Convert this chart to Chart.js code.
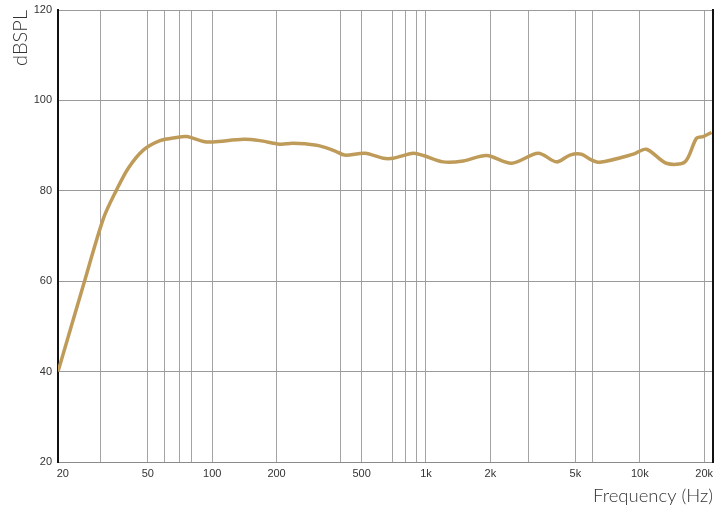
<!DOCTYPE html>
<html>
<head>
<meta charset="utf-8">
<script src="https://cdn.jsdelivr.net/npm/chart.js@4"></script>
<style>
  html, body { margin: 0; padding: 0; background: #fff; }
  #wrap { width: 719px; height: 510px; position: relative; }
</style>
</head>
<body>
<div id="wrap"><canvas id="fr"></canvas></div>
<script>
// --- data ---
const freqs = [19, 25, 31, 35.7, 40.5, 47.6, 57, 68, 76, 91, 101, 140, 167, 207, 239, 308, 337, 376, 416, 519, 631, 703, 872, 973, 1203, 1493, 1921, 2515, 3348, 4081, 4712, 5339, 5840, 6500, 9330, 10740, 13300, 16270, 18400, 19780, 21660];
const spl   = [40, 59.2, 73.9, 80.2, 85.0, 89.0, 91.1, 91.8, 92.0, 90.9, 90.8, 91.4, 91.1, 90.3, 90.5, 90.1, 89.6, 88.8, 87.9, 88.3, 87.2, 87.2, 88.3, 87.8, 86.4, 86.6, 87.8, 86.1, 88.3, 86.4, 87.9, 88.1, 87.0, 86.3, 88.1, 89.2, 86.1, 86.4, 91.6, 92.0, 92.9];

const freqGrid   = [20, 30, 50, 60, 70, 80, 100, 200, 400, 500, 700, 800, 900, 1000, 2000, 3000, 5000, 6000, 10000, 20000];
const freqLabels = { 20: '20', 50: '50', 100: '100', 200: '200', 500: '500', 1000: '1k', 2000: '2k', 5000: '5k', 10000: '10k', 20000: '20k' };

const TICK_FONT = { family: "'Liberation Sans', Arial, sans-serif", size: 11 };

const points = freqs.map((f, i) => ({ x: f, y: spl[i] }));

new Chart(document.getElementById('fr'), {
  type: 'line',
  data: {
    datasets: [{
      data: points,
      borderColor: '#bf9b5a',
      borderWidth: 3.5,
      pointRadius: 0,
      tension: 0.3,
      fill: false,
    }],
  },
  options: {
    responsive: true,
    maintainAspectRatio: false,
    animation: false,
    layout: { padding: { left: 0, right: 0, top: 10, bottom: 0 } },
    plugins: { legend: { display: false }, tooltip: { enabled: false } },
    scales: {
      x: {
        type: 'logarithmic',
        min: 19,
        max: 22000,
        afterBuildTicks: (s) => { s.ticks = freqGrid.map((v) => ({ value: v })); },
        afterFit: (s) => { s.height = 48; },
        ticks: {
          autoSkip: false,
          maxRotation: 0,
          padding: 5,
          color: '#333',
          font: TICK_FONT,
          callback: (v) => freqLabels[v] || '',
        },
        grid: {
          drawTicks: false,
          color: (c) => (c.tick && c.tick.value === 20 ? 'rgba(0,0,0,0)' : '#a3a3a3'),
          lineWidth: 1,
        },
        border: { color: '#8a8a8a', width: 1 },
        title: {
          display: true,
          text: 'Frequency (Hz)',
          align: 'end',
          color: '#333',
          font: { family: "Lato, 'Open Sans', sans-serif", size: 18.5, weight: '300' },
          padding: { top: 0, bottom: 3 },
        },
      },
      y: {
        min: 20,
        max: 120,
        afterFit: (s) => { s.width = 58; s.paddingTop = 0; s.paddingBottom = 0; },
        ticks: { stepSize: 20, padding: 6, color: '#333', font: TICK_FONT },
        grid: { drawTicks: false, color: '#9a9a9a', lineWidth: 1 },
        border: { color: '#111', width: 2 },
        title: {
          display: true,
          text: 'dBSPL',
          align: 'end',
          color: '#333',
          font: { family: "Lato, 'Open Sans', sans-serif", size: 20, weight: '300' },
          padding: { top: 9, bottom: 0 },
        },
      },
      yRight: {
        position: 'right',
        min: 20,
        max: 120,
        afterFit: (s) => { s.width = 6; s.paddingTop = 0; s.paddingBottom = 0; },
        ticks: { display: false },
        grid: { drawOnChartArea: false, drawTicks: false },
        border: { color: '#111', width: 2 },
      },
    },
  },
});
</script>
</body>
</html>
